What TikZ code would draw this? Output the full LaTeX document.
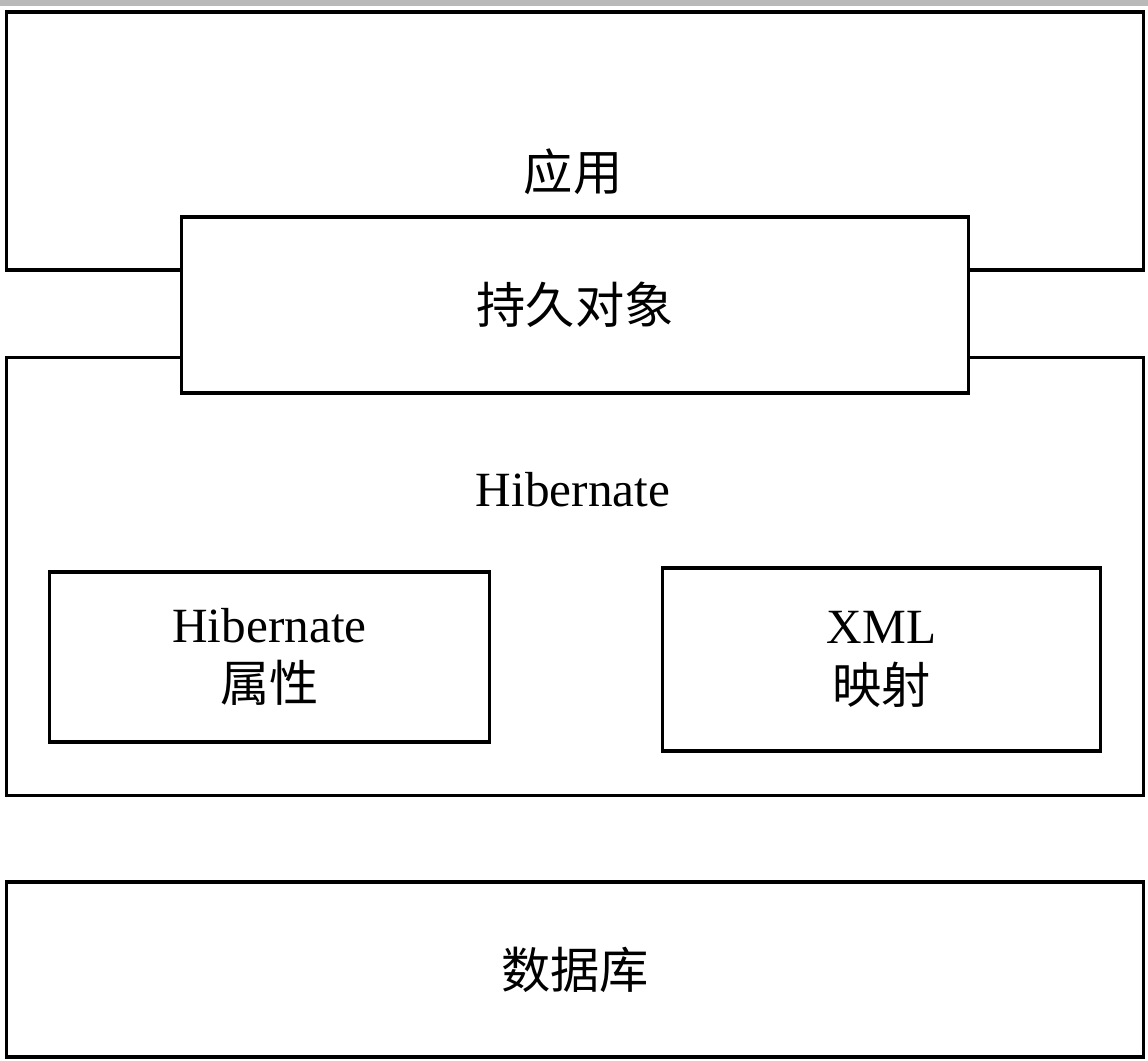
\documentclass[tikz,border=0pt]{standalone}
\usepackage{fontspec}
\setmainfont{Liberation Serif}
\newfontfamily\cjk{Noto Sans CJK SC}
\begin{document}
\begin{tikzpicture}[x=0.01cm, y=-0.01cm, font=\fontsize{14}{17}\selectfont,
    layer/.style={draw, line width=0.9pt, inner sep=0pt}]
    \useasboundingbox (0,0) rectangle (1148,1061);
    \fill[gray!55] (0,0) rectangle (1148,6);

    % outer layers, the middle box sits on top of them
    \foreach \N/\Y/\H in {app/141/2.58cm, hib/576.5/4.37cm} {
        \node[layer, minimum width=11.36cm, minimum height=\H](\N) at (575,\Y) {};
        }
    \node[layer, fill=white, minimum width=7.86cm, minimum height=1.76cm](persist) at (575,305) {\cjk 持久对象};

    \node(appText) at (573,172) {\cjk 应用};
    \node(hibText) at (573,490) {Hibernate};

    \node[layer, align=center, minimum width=4.39cm, minimum height=1.70cm](props) at (269.5,657) {Hibernate\\{\cjk 属性}};
    \node[layer, align=center, minimum width=4.37cm, minimum height=1.83cm](xml) at (881.5,659.5) {XML\\{\cjk 映射}};

    \node[layer, minimum width=11.36cm, minimum height=1.75cm](db) at (575,969.5) {\cjk 数据库};
\end{tikzpicture}
\end{document}
